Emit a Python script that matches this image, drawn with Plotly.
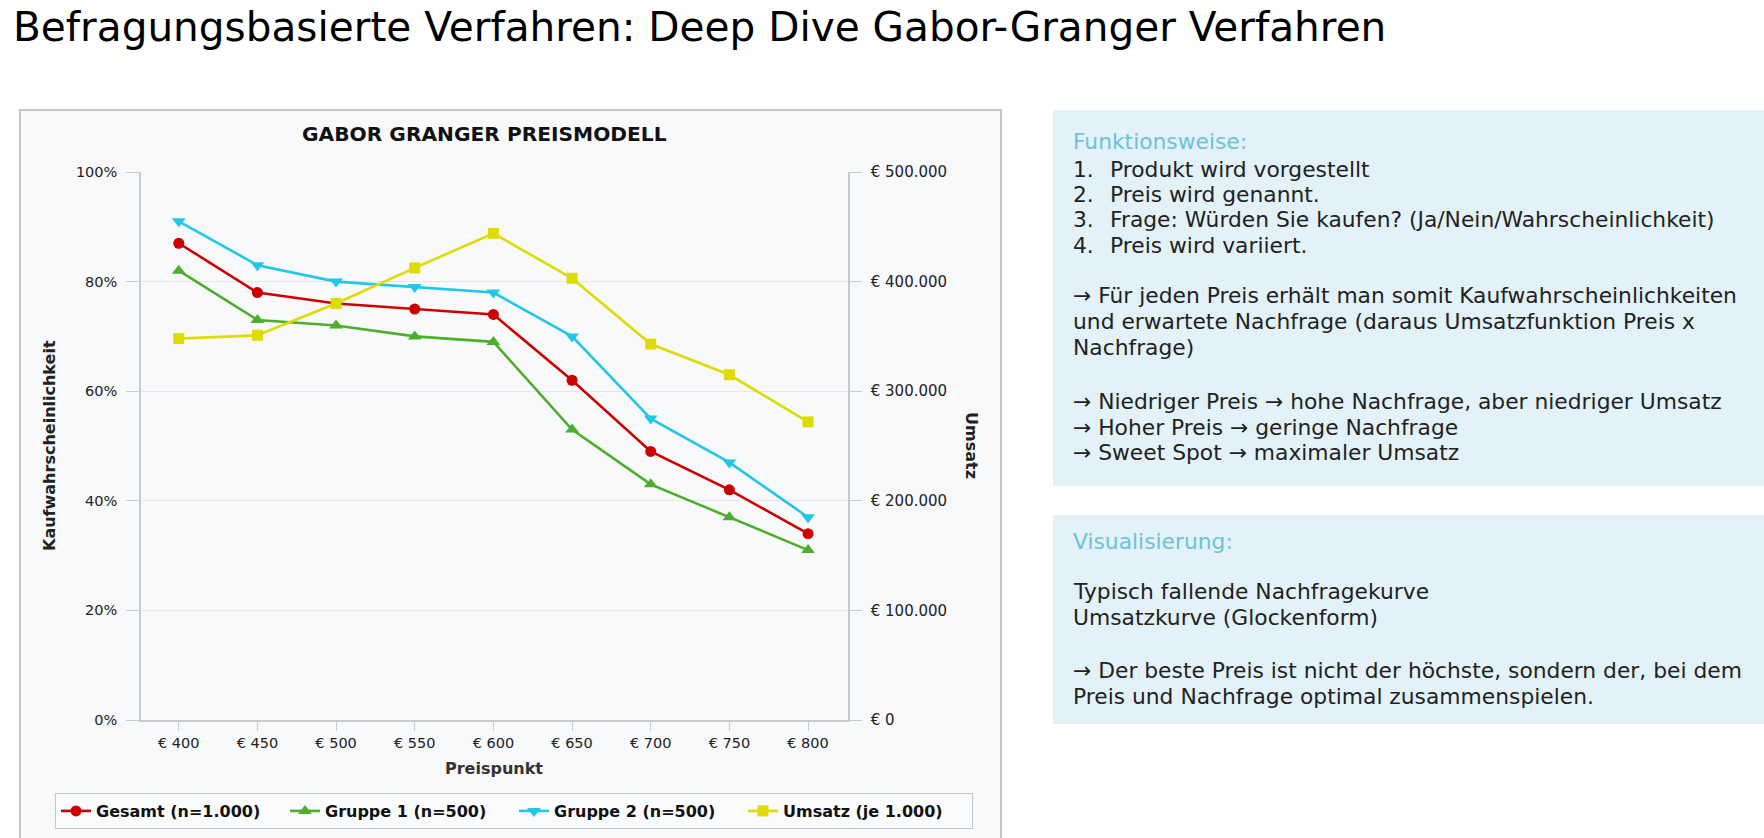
import plotly.graph_objects as go

W, H = 1764, 838

# ---------------- data ----------------
prices = [400, 450, 500, 550, 600, 650, 700, 750, 800]
price_labels = ["€ 400", "€ 450", "€ 500", "€ 550", "€ 600", "€ 650", "€ 700", "€ 750", "€ 800"]
gesamt = [87, 78, 76, 75, 74, 62, 49, 42, 34]
gruppe1 = [82, 73, 72, 70, 69, 53, 43, 37, 31]
gruppe2 = [91, 83, 80, 79, 78, 70, 55, 47, 37]
umsatz = [348000, 351000, 380000, 412500, 444000, 403000, 343000, 315000, 272000]
pct_ticks = [0, 20, 40, 60, 80, 100]
pct_labels = ["0%", "20%", "40%", "60%", "80%", "100%"]
eur_ticks = [0, 100000, 200000, 300000, 400000, 500000]
eur_labels = ["€ 0", "€ 100.000", "€ 200.000", "€ 300.000", "€ 400.000", "€ 500.000"]
series_names = ["Gesamt (n=1.000)", "Gruppe 1 (n=500)", "Gruppe 2 (n=500)", "Umsatz (je 1.000)"]

page_title = "Befragungsbasierte Verfahren: Deep Dive Gabor-Granger Verfahren"
chart_title = "GABOR GRANGER PREISMODELL"
box1_head = "Funktionsweise:"
box1_list = [("1.", "Produkt wird vorgestellt"),
             ("2.", "Preis wird genannt."),
             ("3.", "Frage: Würden Sie kaufen? (Ja/Nein/Wahrscheinlichkeit)"),
             ("4.", "Preis wird variiert.")]
box1_lines = ["→ Für jeden Preis erhält man somit Kaufwahrscheinlichkeiten",
              "und erwartete Nachfrage (daraus Umsatzfunktion Preis x",
              "Nachfrage)",
              "→ Niedriger Preis → hohe Nachfrage, aber niedriger Umsatz",
              "→ Hoher Preis → geringe Nachfrage",
              "→ Sweet Spot → maximaler Umsatz"]
box2_head = "Visualisierung:"
box2_lines = ["Typisch fallende Nachfragekurve",
              "Umsatzkurve (Glockenform)",
              "→ Der beste Preis ist nicht der höchste, sondern der, bei dem",
              "Preis und Nachfrage optimal zusammenspielen."]

# ---------------- helpers ----------------
def px(x):
    return x / W

def py(y):
    return 1 - y / H

FONT = "DejaVu Sans"
RED, GREEN, CYAN, YELLOW = "#cc0000", "#4cae2c", "#22c6e6", "#dedb00"
AXIS_COL = "#c6cbd1"
GRID_COL = "#e4e6e9"
TXT = "#222222"

fig = go.Figure()

fig.add_trace(go.Scatter(x=prices, y=gesamt, name=series_names[0], mode="lines+markers",
                         line=dict(color=RED, width=2.6),
                         marker=dict(symbol="circle", size=11, color=RED)))
fig.add_trace(go.Scatter(x=prices, y=gruppe1, name=series_names[1], mode="lines+markers",
                         line=dict(color=GREEN, width=2.6),
                         marker=dict(symbol="triangle-up", size=12, color=GREEN)))
fig.add_trace(go.Scatter(x=prices, y=gruppe2, name=series_names[2], mode="lines+markers",
                         line=dict(color=CYAN, width=2.6),
                         marker=dict(symbol="triangle-down", size=12, color=CYAN)))
fig.add_trace(go.Scatter(x=prices, y=umsatz, name=series_names[3], mode="lines+markers",
                         yaxis="y2",
                         line=dict(color=YELLOW, width=2.6),
                         marker=dict(symbol="square", size=11, color=YELLOW)))

x0, x1 = 141, 848
y0, y1 = 172, 720

shapes = [
    # chart panel
    dict(type="rect", xref="paper", yref="paper", x0=px(20), x1=px(1001), y0=py(110), y1=py(850),
         fillcolor="#f8f9fb", line=dict(color="#c3c6ca", width=2), layer="below"),
    # text boxes
    dict(type="rect", xref="paper", yref="paper", x0=px(1053), x1=px(1770), y0=py(110), y1=py(486),
         fillcolor="#e2f2f8", line=dict(width=0), layer="below"),
    dict(type="rect", xref="paper", yref="paper", x0=px(1053), x1=px(1770), y0=py(515), y1=py(724),
         fillcolor="#e2f2f8", line=dict(width=0), layer="below"),
]

annotations = []

def ann(text, x, y, size, color=TXT, bold=False, xanchor="left", angle=0):
    t = f"<b>{text}</b>" if bold else text
    annotations.append(dict(text=t, x=px(x), y=py(y), xref="paper", yref="paper",
                            xanchor=xanchor, yanchor="middle", showarrow=False,
                            textangle=angle,
                            font=dict(family=FONT, size=size, color=color)))

ann(page_title, 11, 27, 40.6, color="#000000")
ann(chart_title, 484, 134, 20.2, color="#111111", bold=True, xanchor="center")
ann("Kaufwahrscheinlichkeit", 50, 446, 16, color="#222222", bold=True, xanchor="center", angle=-90)
ann("Umsatz", 971, 446, 16, color="#222222", bold=True, xanchor="center", angle=90)
ann("Preispunkt", 494, 768, 16, color="#333333", bold=True, xanchor="center")

TS = 21.8
ann(box1_head, 1071, 142, TS, color="#6cc3d8")
list_y = [169, 194.5, 219.5, 245]
for (num, txt), yy in zip(box1_list, list_y):
    ann(num, 1071, yy, TS)
    ann(txt, 1108, yy, TS)
line_y = [295, 321.5, 347.5, 401, 427, 453]
for txt, yy in zip(box1_lines, line_y):
    ann(txt, 1071, yy, TS)

ann(box2_head, 1071, 541, TS, color="#6cc3d8")
for txt, yy in zip(box2_lines, [591, 617.5, 670.5, 696.5]):
    ann(txt, 1071, yy, TS)

fig.update_layout(
    width=W, height=H,
    margin=dict(l=0, r=0, t=0, b=0),
    paper_bgcolor="#ffffff",
    plot_bgcolor="rgba(0,0,0,0)",
    font=dict(family=FONT, color=TXT),
    showlegend=True,
    legend=dict(orientation="h", x=px(55), y=py(829), xanchor="left", yanchor="bottom",
                bgcolor="#fafbfc", bordercolor="#c3c6ca", borderwidth=1,
                font=dict(family=FONT, size=16, color="#111111", weight="bold"),
                entrywidth=184, entrywidthmode="pixels", itemclick=False, itemdoubleclick=False),
    xaxis=dict(domain=[px(x0), px(x1)], range=[376, 825.4], automargin=False,
               tickmode="array", tickvals=prices, ticktext=price_labels,
               ticks="outside", ticklen=9, tickcolor=AXIS_COL, tickwidth=1,
               showline=True, linecolor=AXIS_COL, linewidth=1.5,
               showgrid=False, zeroline=False,
               tickfont=dict(family=FONT, size=14.5, color="#222222")),
    yaxis=dict(domain=[py(y1), py(y0)], range=[0, 100], automargin=False,
               tickmode="array", tickvals=pct_ticks, ticktext=pct_labels,
               ticks="outside", ticklen=13, tickcolor=AXIS_COL, tickwidth=1,
               showline=True, linecolor=AXIS_COL, linewidth=1.5,
               showgrid=True, gridcolor=GRID_COL, gridwidth=1, zeroline=False,
               ticklabelstandoff=6,
               tickfont=dict(family=FONT, size=14.5, color="#222222")),
    yaxis2=dict(overlaying="y", side="right", anchor="x", range=[0, 500000], automargin=False,
                tickmode="array", tickvals=eur_ticks, ticktext=eur_labels,
                ticks="outside", ticklen=12, tickcolor=AXIS_COL, tickwidth=1,
                showline=True, linecolor=AXIS_COL, linewidth=1.5,
                showgrid=False, zeroline=False,
                ticklabelstandoff=6,
                tickfont=dict(family=FONT, size=15, color="#222222")),
    shapes=shapes,
    annotations=annotations,
)

fig.write_html("out.html")
